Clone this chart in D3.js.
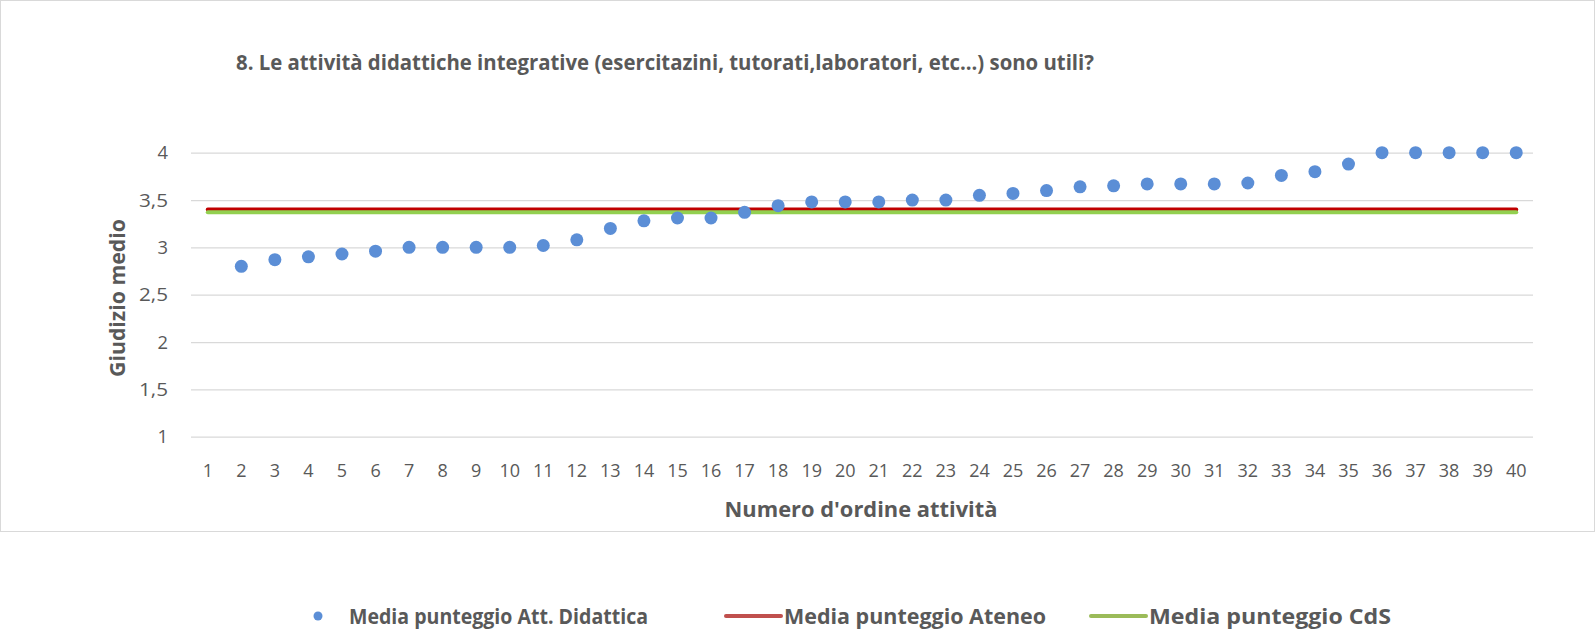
<!DOCTYPE html>
<html>
<head>
<meta charset="utf-8">
<script src="https://cdn.jsdelivr.net/npm/d3@7"></script>
<style>
body { margin:0; background:#fff; }
text { font-family:"Open Sans", sans-serif; fill:#595959; }
</style>
</head>
<body>
<svg id="chart_svg" width="1596" height="633"></svg>
<script>

var titolo="8. Le attività didattiche integrative (esercitazini, tutorati,laboratori, etc...) sono utili?";
var categorie=["1","2","3","4","5","6","7","8","9","10","11","12","13","14","15","16","17","18","19","20",
	"21","22","23","24","25","26","27","28","29","30","31","32","33","34","35","36","37","38","39","40"];
// categoria 1 senza valore
var punteggi=[null,2.80,2.87,2.90,2.93,2.96,3.00,3.00,3.00,3.00,3.02,3.08,3.20,3.28,3.31,3.31,3.37,3.44,3.48,3.48,
	3.48,3.50,3.50,3.55,3.57,3.60,3.64,3.65,3.67,3.67,3.67,3.68,3.76,3.80,3.88,4,4,4,4,4];
var mediaAteneo=[3.40];
var mediaCdS=[3.37];
var yTicks=[1,1.5,2,2.5,3,3.5,4];
var serie=["Media punteggio Att. Didattica","Media punteggio Ateneo","Media punteggio CdS"];
var colori=["#5B8ED6","#C00000","#92D050"];


window.onload=function() {
	var svg=d3.select("#chart_svg");
	var left=191, right=1533, top=152.7, bottom=436.7;

	// cornice
	svg.append("rect")
		.attr("x",0.5).attr("y",0.5)
		.attr("width",1594).attr("height",531)
		.attr("fill","none")
		.attr("stroke","#D9D9D9");

	var x=d3.scaleBand().domain(categorie).range([left,right]);
	var y=d3.scaleLinear().domain([1,4]).range([bottom,top]);
	var cx=function(c) { return x(c)+x.bandwidth()/2; };

	var yAxis=d3.axisLeft(y)
		.tickValues(yTicks)
		.tickSize(-(right-left))
		.tickPadding(23)
		.tickFormat(function(d) { return String(d).replace(".",","); });
	var gy=svg.append("g").attr("transform","translate("+left+",0)").call(yAxis);
	gy.select(".domain").remove();
	gy.selectAll("line").attr("stroke","#D9D9D9").attr("stroke-width",1.3);
	gy.selectAll("text").attr("font-size",19).attr("fill","#595959")
		.attr("textLength",function(d) { return String(d).length==1 ? 10.5 : 29; })
		.attr("lengthAdjust","spacingAndGlyphs");

	var xAxis=d3.axisBottom(x).tickSize(0).tickPadding(26.5);
	var gx=svg.append("g").attr("transform","translate(0,"+bottom+")").call(xAxis);
	gx.select(".domain").remove();
	gx.selectAll("text").attr("font-size",19).attr("fill","#595959")
		.attr("textLength",function(d) { return d.length*10.3; })
		.attr("lengthAdjust","spacingAndGlyphs");

	// linee medie
	var lineData=[[mediaAteneo[0],colori[1]],[mediaCdS[0],colori[2]]];
	svg.selectAll("line.media")
		.data(lineData)
		.enter()
		.append("line")
		.attr("class","media")
		.attr("x1",cx(categorie[0]))
		.attr("x2",cx(categorie[categorie.length-1]))
		.attr("y1",function(d) { return y(d[0]); })
		.attr("y2",function(d) { return y(d[0]); })
		.attr("stroke",function(d) { return d[1]; })
		.attr("stroke-width",4)
		.attr("stroke-linecap","round");

	// punti
	var punti=categorie.map(function(c,i) { return {c:c,v:punteggi[i]}; }).filter(function(p) { return p.v!==null; });
	svg.selectAll("circle.pt")
		.data(punti)
		.enter()
		.append("circle")
		.attr("class","pt")
		.attr("cx",function(d) { return cx(d.c); })
		.attr("cy",function(d) { return y(d.v); })
		.attr("r",6.5)
		.attr("fill",colori[0]);

	// titoli
	svg.append("text")
		.attr("x",236).attr("y",69.5)
		.attr("font-size",21).attr("font-weight","bold")
		.attr("textLength",858).attr("lengthAdjust","spacingAndGlyphs")
		.text(titolo);
	svg.append("text")
		.attr("transform","translate(125,298) rotate(-90)")
		.attr("text-anchor","middle")
		.attr("font-size",21).attr("font-weight","bold")
		.attr("textLength",158).attr("lengthAdjust","spacingAndGlyphs")
		.text("Giudizio medio");
	svg.append("text")
		.attr("x",861).attr("y",516.5)
		.attr("text-anchor","middle")
		.attr("font-size",21).attr("font-weight","bold")
		.attr("textLength",273).attr("lengthAdjust","spacingAndGlyphs")
		.text("Numero d'ordine attività");

	// legenda
	var ly=616;
	var leg=svg.append("g");
	leg.append("circle").attr("cx",318).attr("cy",ly).attr("r",4.5).attr("fill",colori[0]);
	leg.append("line").attr("x1",726).attr("x2",781).attr("y1",ly).attr("y2",ly)
		.attr("stroke","#C0504D").attr("stroke-width",4).attr("stroke-linecap","round");
	leg.append("line").attr("x1",1091).attr("x2",1146).attr("y1",ly).attr("y2",ly)
		.attr("stroke","#9BBB59").attr("stroke-width",4).attr("stroke-linecap","round");
	var legText=[[349,299],[784,262],[1149,242]];
	leg.selectAll("text")
		.data(serie)
		.enter()
		.append("text")
		.attr("x",function(d,i) { return legText[i][0]; })
		.attr("y",ly+7.5)
		.attr("font-size",21).attr("font-weight","bold")
		.attr("textLength",function(d,i) { return legText[i][1]; })
		.attr("lengthAdjust","spacingAndGlyphs")
		.text(function(d) { return d; });
	};

</script>
</body>
</html>
